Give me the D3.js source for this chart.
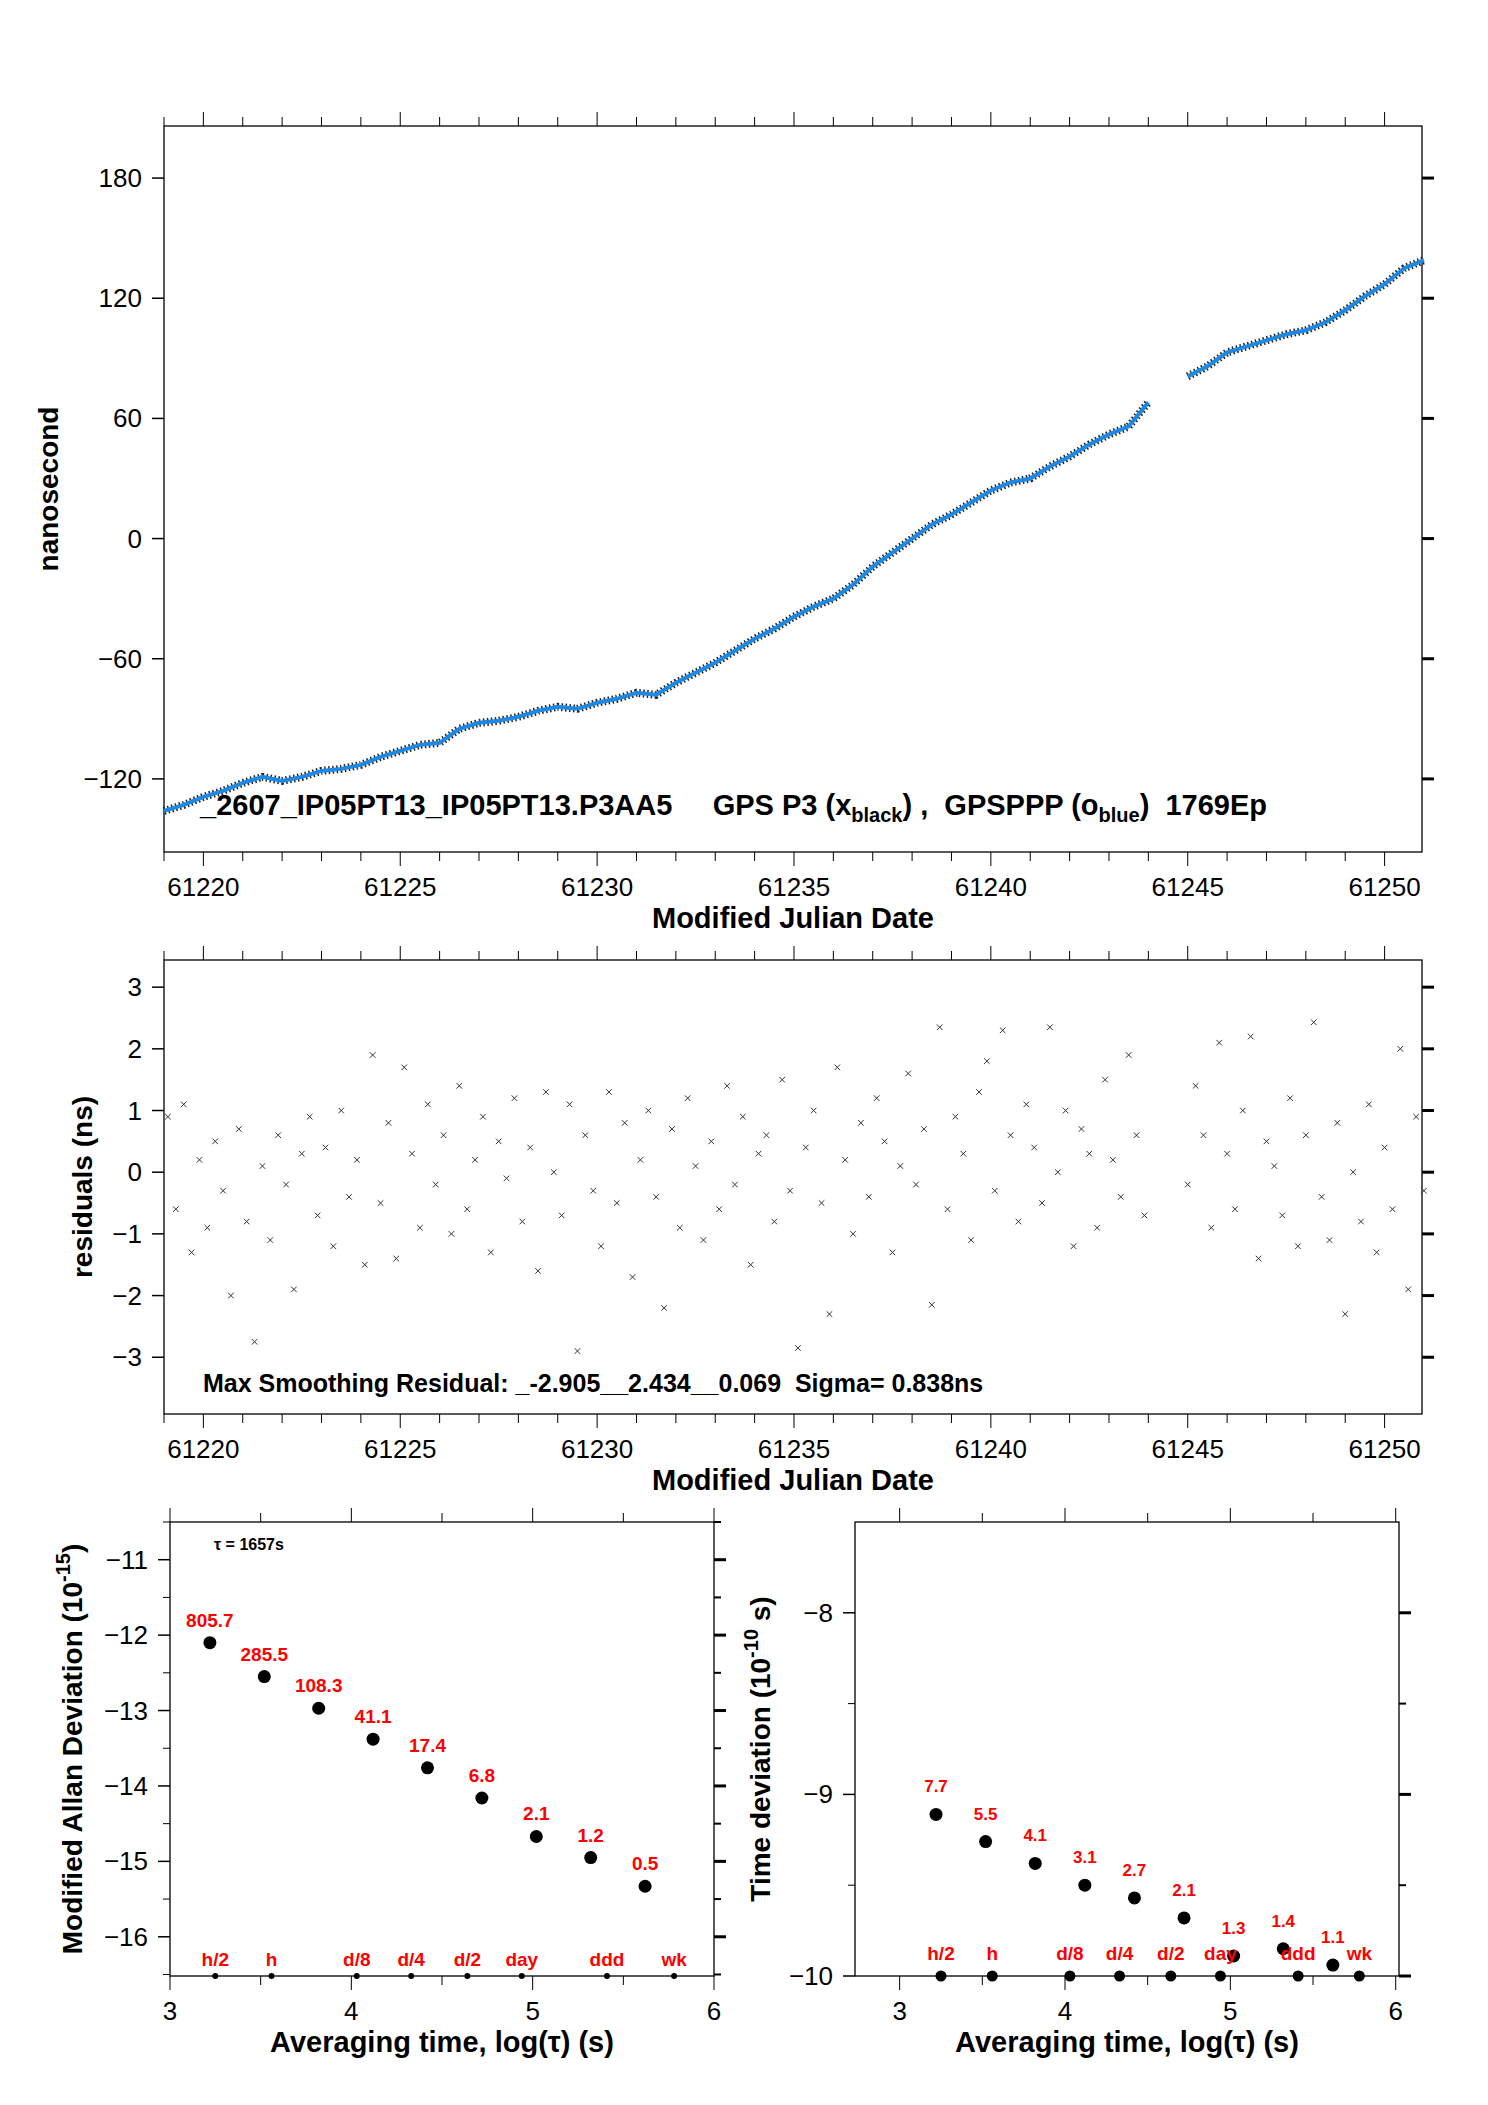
<!DOCTYPE html>
<html><head><meta charset="utf-8">
<script src="https://cdn.jsdelivr.net/npm/d3@7"></script>
<style>
body{margin:0;background:#fff}
text{font-family:"Liberation Sans",Arial,sans-serif}
</style></head><body>
<script>
// phase data (MJD, ns), gap between 61244 and 61245
var phaseMjd = [61219,61219.5,61220,61220.5,61221,61221.5,61222,61222.5,61223,61223.5,61224,61224.5,61225,61225.5,61226,61226.5,61227,61227.5,61228,61228.5,61229,61229.5,61230,61230.5,61231,61231.5,61232,61232.5,61233,61233.5,61234,61234.5,61235,61235.5,61236,61236.5,61237,61237.5,61238,61238.5,61239,61239.5,61240,61240.5,61241,61241.5,61242,61242.5,61243,61243.5,61244,
  61245,61245.5,61246,61246.5,61247,61247.5,61248,61248.5,61249,61249.5,61250,61250.5,61251];
var phaseNs = [-136,-133,-129,-126,-122,-119,-121,-119,-116,-115,-113,-109,-106,-103,-102,-95,-92,-91,-89,-86,-84,-85,-82,-80,-77,-78,-72,-67,-62,-56,-50,-45,-39,-34,-30,-23,-14,-7,0,7,12,18,24,28,30,36,41,47,52,56,68,
  81,86,93,96,99,102,104,108,114,121,127,135,139,141];
var segBreak = 61244.5;

// residuals, sampled every 0.2 d
var resA = [0.9,-0.6,1.1,-1.3,0.2,-0.9,0.5,-0.3,-2.0,0.7,-0.8,-2.75,0.1,-1.1,0.6,-0.2,-1.9,0.3,0.9,-0.7,0.4,-1.2,1.0,-0.4,0.2,-1.5,1.9,-0.5,0.8,-1.4,1.7,0.3,-0.9,1.1,-0.2,0.6,-1.0,1.4,-0.6,0.2,0.9,-1.3,0.5,-0.1,1.2,-0.8,0.4,-1.6,1.3,0.0,-0.7,1.1,-2.9,0.6,-0.3,-1.2,1.3,-0.5,0.8,-1.7,0.2,1.0,-0.4,-2.2,0.7,-0.9,1.2,0.1,-1.1,0.5,-0.6,1.4,-0.2,0.9,-1.5,0.3,0.6,-0.8,1.5,-0.3,-2.85,0.4,1.0,-0.5,-2.3,1.7,0.2,-1.0,0.8,-0.4,1.2,0.5,-1.3,0.1,1.6,-0.2,0.7,-2.15,2.35,-0.6,0.9,0.3,-1.1,1.3,1.8,-0.3,2.3,0.6,-0.8,1.1,0.4,-0.5,2.35,0.0,1.0,-1.2,0.7,0.3,-0.9,1.5,0.2,-0.4,1.9,0.6,-0.7];
var resB = [-0.2,1.4,0.6,-0.9,2.1,0.3,-0.6,1.0,2.2,-1.4,0.5,0.1,-0.7,1.2,-1.2,0.6,2.43,-0.4,-1.1,0.8,-2.3,0.0,-0.8,1.1,-1.3,0.4,-0.6,2.0,-1.9,0.9,-0.3];
var resStartA = 61219.1, resStartB = 61245.0, resStep = 0.2;

// Allan / time deviation
var logTau = [3.22,3.52,3.82,4.12,4.42,4.72,5.02,5.32,5.62];
var madev = [-12.1,-12.55,-12.97,-13.38,-13.76,-14.16,-14.67,-14.95,-15.33];
var madevLab = ['805.7','285.5','108.3','41.1','17.4','6.8','2.1','1.2','0.5'];
var tdev = [-9.11,-9.26,-9.38,-9.50,-9.57,-9.68,-9.89,-9.85,-9.94];
var tdevLab = ['7.7','5.5','4.1','3.1','2.7','2.1','1.3','1.4','1.1'];
var markTau = [3.25,3.56,4.03,4.33,4.64,4.94,5.41,5.78];
var markLab = ['h/2','h','d/8','d/4','d/2','day','ddd','wk'];

var svg = d3.select('body').append('svg').attr('width',1488).attr('height',2105);

function frame(x, y, xt, yt, opt){
  var g = svg.append('g');
  var r = x.range(), b = y.range();
  g.append('rect').attr('x',r[0]).attr('y',b[1]).attr('width',r[1]-r[0]).attr('height',b[0]-b[1])
    .attr('fill','none').attr('stroke','#000').attr('stroke-width',1.3);
  // x ticks top & bottom
  opt.xminor.forEach(function(v){
    var len = opt.xmajor.indexOf(v)>=0 ? 14 : 9;
    g.append('line').attr('x1',x(v)).attr('x2',x(v)).attr('y1',b[1]).attr('y2',b[1]-len).attr('stroke','#000');
    g.append('line').attr('x1',x(v)).attr('x2',x(v)).attr('y1',b[0]).attr('y2',b[0]+len).attr('stroke','#000');
  });
  opt.ymajor.forEach(function(v){
    g.append('line').attr('x1',r[0]).attr('x2',r[0]-12).attr('y1',y(v)).attr('y2',y(v)).attr('stroke','#000').attr('stroke-width',1.5);
    g.append('line').attr('x1',r[1]).attr('x2',r[1]+12).attr('y1',y(v)).attr('y2',y(v)).attr('stroke','#000').attr('stroke-width',3);
    g.append('text').attr('x',r[0]-22).attr('y',y(v)+9).attr('text-anchor','end').attr('font-size',26)
      .text(String(v).replace('-','\u2212'));
  });
  (opt.yminor||[]).forEach(function(v){
    g.append('line').attr('x1',r[0]).attr('x2',r[0]-7).attr('y1',y(v)).attr('y2',y(v)).attr('stroke','#000');
    g.append('line').attr('x1',r[1]).attr('x2',r[1]+7).attr('y1',y(v)).attr('y2',y(v)).attr('stroke','#000').attr('stroke-width',2);
  });
  opt.xmajor.forEach(function(v){
    g.append('text').attr('x',x(v)).attr('y',b[0]+44).attr('text-anchor','middle').attr('font-size',26).text(v);
  });
  g.append('text').attr('x',(r[0]+r[1])/2).attr('y',b[0]+opt.xtOff).attr('text-anchor','middle')
    .attr('font-size',29).attr('font-weight','bold').text(xt);
  var yl = g.append('text').attr('transform','translate('+opt.ytX+','+(b[0]+b[1])/2+') rotate(-90)')
    .attr('text-anchor','middle').attr('font-size',28).attr('font-weight','bold');
  yt(yl);
  return g;
}

// ---- top panel
var x1 = d3.scaleLinear().domain([61219.0,61250.95]).range([164,1422]);
var y1 = d3.scaleLinear().domain([-156.5,206]).range([852,126]);
var mjdTicks = d3.range(61219,61251);
frame(x1,y1,'Modified Julian Date',function(t){t.text('nanosecond');},
  {xminor:mjdTicks,xmajor:[61220,61225,61230,61235,61240,61245,61250],ymajor:[-120,-60,0,60,120,180],xtOff:76,ytX:58});
var phase = phaseMjd.map(function(d,i){return [d,phaseNs[i]];});
var line1 = d3.line().x(function(d){return x1(d[0]);}).y(function(d){return y1(d[1]);});
[phase.filter(function(d){return d[0]<segBreak;}), phase.filter(function(d){return d[0]>segBreak;})].forEach(function(seg){
  svg.append('path').datum(seg).attr('d',line1).attr('fill','none').attr('stroke','#222').attr('stroke-width',8).attr('stroke-dasharray','1.5,2.5');
  svg.append('path').datum(seg).attr('d',line1).attr('fill','none').attr('stroke','#1e88e5').attr('stroke-width',4);
});
var tt = svg.append('text').attr('x',200).attr('y',815).attr('font-size',29).attr('font-weight','bold')
  .attr('xml:space','preserve');
tt.append('tspan').text('_2607_IP05PT13_IP05PT13.P3AA5     GPS P3 (x');
tt.append('tspan').attr('font-size',20).attr('dy',7).text('black');
tt.append('tspan').attr('dy',-7).text(') ,  GPSPPP (o');
tt.append('tspan').attr('font-size',20).attr('dy',7).text('blue');
tt.append('tspan').attr('dy',-7).text(')  1769Ep');

// ---- residual panel
var x2 = d3.scaleLinear().domain([61219.0,61250.95]).range([164,1422]);
var y2 = d3.scaleLinear().domain([-3.92,3.44]).range([1414,960]);
frame(x2,y2,'Modified Julian Date',function(t){t.text('residuals (ns)');},
  {xminor:mjdTicks,xmajor:[61220,61225,61230,61235,61240,61245,61250],ymajor:[-3,-2,-1,0,1,2,3],xtOff:76,ytX:92});
var res = resA.map(function(v,i){return [resStartA+i*resStep,v];})
  .concat(resB.map(function(v,i){return [resStartB+i*resStep,v];}));
var cross = d3.symbol().type(d3.symbolX).size(22);
svg.append('g').selectAll('path').data(res).join('path')
  .attr('transform',function(d){return 'translate('+x2(d[0])+','+y2(d[1])+')';})
  .attr('d',cross).attr('fill','none').attr('stroke','#333').attr('stroke-width',1);
svg.append('text').attr('x',203).attr('y',1392).attr('font-size',25).attr('font-weight','bold')
  .attr('xml:space','preserve')
  .text('Max Smoothing Residual: _-2.905__2.434__0.069  Sigma= 0.838ns');

// ---- MDEV panel
var x3 = d3.scaleLinear().domain([3,6]).range([170,714]);
var y3 = d3.scaleLinear().domain([-16.52,-10.5]).range([1976,1522]);
frame(x3,y3,'Averaging time, log(\u03c4) (s)',function(t){
  t.text('Modified Allan Deviation (10');
  t.append('tspan').attr('font-size',20).attr('dy',-12).text('-15');
  t.append('tspan').attr('dy',12).text(')');
},{xminor:[3,3.5,4,4.5,5,5.5,6],xmajor:[3,4,5,6],ymajor:[-16,-15,-14,-13,-12,-11],
   yminor:[-16.5,-15.5,-14.5,-13.5,-12.5,-11.5,-10.5],xtOff:76,ytX:82});
svg.append('text').attr('x',214).attr('y',1550).attr('font-size',16).attr('font-weight','bold').text('\u03c4 = 1657s');
var gm = svg.append('g');
logTau.forEach(function(v,i){
  gm.append('circle').attr('cx',x3(v)).attr('cy',y3(madev[i])).attr('r',6.5);
  gm.append('text').attr('x',x3(v)).attr('y',y3(madev[i])-16).attr('text-anchor','middle')
    .attr('fill','red').attr('font-size',19).attr('font-weight','bold').text(madevLab[i]);
});
markTau.forEach(function(v,i){
  gm.append('circle').attr('cx',x3(v)).attr('cy',y3(-16.52)).attr('r',3);
  gm.append('text').attr('x',x3(v)).attr('y',y3(-16.52)-10).attr('text-anchor','middle')
    .attr('fill','red').attr('font-size',19).attr('font-weight','bold').text(markLab[i]);
});

// ---- TDEV panel
var x4 = d3.scaleLinear().domain([2.73,6.02]).range([855,1399]);
var y4 = d3.scaleLinear().domain([-10,-7.5]).range([1976,1522]);
frame(x4,y4,'Averaging time, log(\u03c4) (s)',function(t){
  t.text('Time deviation (10');
  t.append('tspan').attr('font-size',20).attr('dy',-12).text('-10');
  t.append('tspan').attr('dy',12).text(' s)');
},{xminor:[3,3.5,4,4.5,5,5.5,6],xmajor:[3,4,5,6],ymajor:[-10,-9,-8],yminor:[-9.5,-8.5],xtOff:76,ytX:770});
var gt = svg.append('g');
logTau.forEach(function(v,i){
  gt.append('circle').attr('cx',x4(v)).attr('cy',y4(tdev[i])).attr('r',6.5);
  gt.append('text').attr('x',x4(v)).attr('y',y4(tdev[i])-22).attr('text-anchor','middle')
    .attr('fill','red').attr('font-size',17).attr('font-weight','bold').text(tdevLab[i]);
});
markTau.forEach(function(v,i){
  gt.append('circle').attr('cx',x4(v)).attr('cy',y4(-10)).attr('r',5.5);
  gt.append('text').attr('x',x4(v)).attr('y',y4(-10)-16).attr('text-anchor','middle')
    .attr('fill','red').attr('font-size',19).attr('font-weight','bold').text(markLab[i]);
});
</script>
</body></html>
